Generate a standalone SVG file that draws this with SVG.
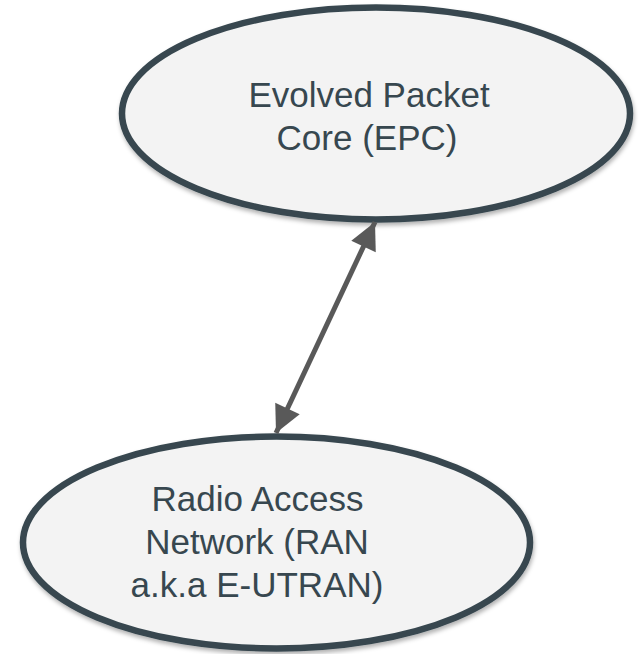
<svg xmlns="http://www.w3.org/2000/svg" width="639" height="654" viewBox="0 0 639 654">
  <style>
    .node-shape { fill: #f3f3f3; stroke: #37474f; stroke-width: 6.5; filter: url(#shadow); }
    .node-label { font-family: "Liberation Sans", Arial, sans-serif; font-size: 35px; fill: #37474f; text-anchor: middle; }
    .link { stroke: #595959; stroke-width: 5; fill: none; marker-start: url(#head-start); marker-end: url(#head-end); }
  </style>
  <defs>
    <filter id="shadow" x="-10%" y="-10%" width="120%" height="130%">
      <feDropShadow dx="1" dy="3" stdDeviation="2" flood-color="#000000" flood-opacity="0.3"/>
    </filter>
    <marker id="head-end" viewBox="0 0 10 10" refX="10" refY="5" markerWidth="6" markerHeight="5.4" orient="auto" markerUnits="strokeWidth">
      <path d="M0,0 L10,5 L0,10 Z" fill="#595959"/>
    </marker>
    <marker id="head-start" viewBox="0 0 10 10" refX="0" refY="5" markerWidth="6" markerHeight="5.4" orient="auto" markerUnits="strokeWidth">
      <path d="M10,0 L0,5 L10,10 Z" fill="#595959"/>
    </marker>
  </defs>

  <!-- EPC node -->
  <g id="epc">
    <ellipse class="node-shape" cx="376" cy="113.5" rx="254" ry="106"/>
    <text class="node-label" x="369" y="107">Evolved Packet</text>
    <text class="node-label" x="367" y="150">Core (EPC)</text>
  </g>

  <!-- RAN node -->
  <g id="ran">
    <ellipse class="node-shape" cx="276.5" cy="542.5" rx="253.5" ry="106"/>
    <text class="node-label" x="257.5" y="511">Radio Access</text>
    <text class="node-label" x="257" y="554">Network (RAN</text>
    <text class="node-label" x="257" y="597">a.k.a E-UTRAN)</text>
  </g>

  <!-- connectors -->
  <g id="connectors">
    <line class="link" x1="276" y1="433" x2="375" y2="222"/>
  </g>
</svg>
